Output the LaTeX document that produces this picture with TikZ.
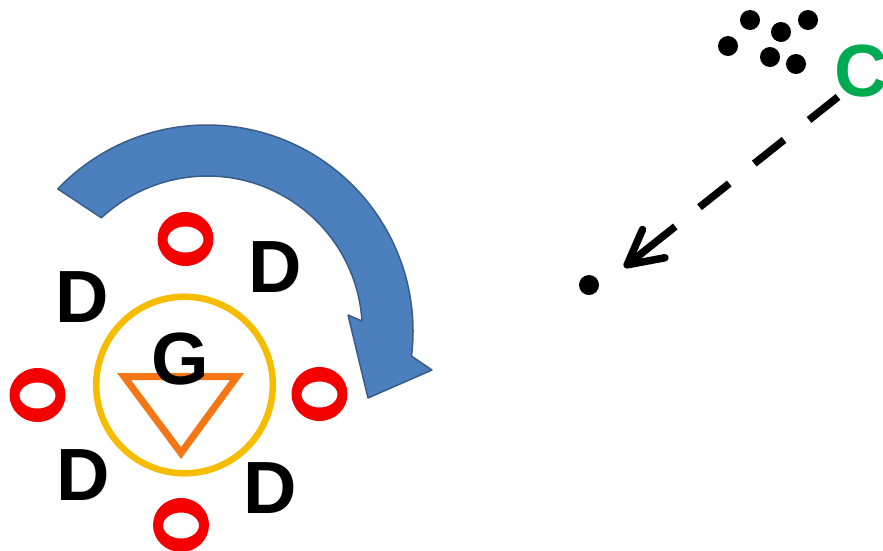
\documentclass[tikz,border=0pt]{standalone}
\usepackage{fontspec}
\setmainfont{Liberation Sans}
\usetikzlibrary{arrows.meta,shapes.geometric}
\definecolor{arrowblue}{RGB}{76,127,190}
\definecolor{arrowedge}{RGB}{56,93,138}
\definecolor{ringgold}{RGB}{246,188,0}
\definecolor{triorange}{RGB}{245,118,20}
\definecolor{ored}{RGB}{245,0,0}
\definecolor{cgreen}{RGB}{0,170,80}
\begin{document}
\begin{tikzpicture}[x=1pt,y=-1pt,
  letter/.style={inner sep=0pt, anchor=base, font=\fontsize{74}{74}\selectfont\bfseries},
  oring/.pic={\fill[ored, even odd rule] (0,0) ellipse[x radius=28, y radius=27] (0,0.5) ellipse[x radius=18, y radius=13];},
  blackdot/.style={circle, fill=black, minimum size=20pt, inner sep=0pt},
  bigarrow/.style={fill=arrowblue, draw=arrowedge, line width=1.5pt, line join=round},
  goldring/.style={circle, draw=ringgold, line width=6.5pt, minimum size=176.6pt, inner sep=0pt},
  tri/.style={draw=triorange, fill=white, line width=7pt, line join=miter},
  dasharrow/.style={line width=7.5pt, dash pattern=on 37pt off 32pt on 38pt off 32pt on 38pt off 31pt on 200pt off 1pt,
    -{Straight Barb[length=34pt,width=36pt,round]}, shorten >=45pt}]
\useasboundingbox (0,0) rectangle (883,550);
% curved blue arrow
\path[bigarrow] (207,331) ++(223.6:206) arc[start angle=223.6, end angle=367, radius=206]
  -- (432,370) -- (368,398) -- (348,315) -- (362,321)
  arc[start angle=356.3, end angle=226.9, radius=155] -- cycle;
% central ring and triangle
\node[goldring] (ring) at (184.5,385) {};
\draw[tri] (124,376.5) -- (237,376.5) -- (181,453) -- cycle;
\node[letter] (G) at (180,384) {G};
% D letters
\node[letter] (D1) at (82.5,322) {D};
\node[letter] (D2) at (275.5,292.5) {D};
\node[letter] (D3) at (83,500) {D};
\node[letter] (D4) at (270.5,513) {D};
% red O rings
\pic (O1) at (185.5,239) {oring};
\pic (O2) at (37.5,395) {oring};
\pic (O3) at (319.5,394) {oring};
\pic (O4) at (181,525) {oring};
% dots
\node[blackdot] (p1) at (750,20) {};
\node[blackdot] (p2) at (781,32) {};
\node[blackdot] (p3) at (808,20) {};
\node[blackdot] (p4) at (728,46) {};
\node[blackdot] (p5) at (770,57) {};
\node[blackdot] (p6) at (796,64) {};
\node[blackdot] (dot) at (589,285) {};
% C
\node[letter, anchor=base west, text=cgreen] (C) at (834,96) {C};
\draw[dasharrow] ([xshift=4pt]C.south west) -- (dot.south);
\end{tikzpicture}
\end{document}
